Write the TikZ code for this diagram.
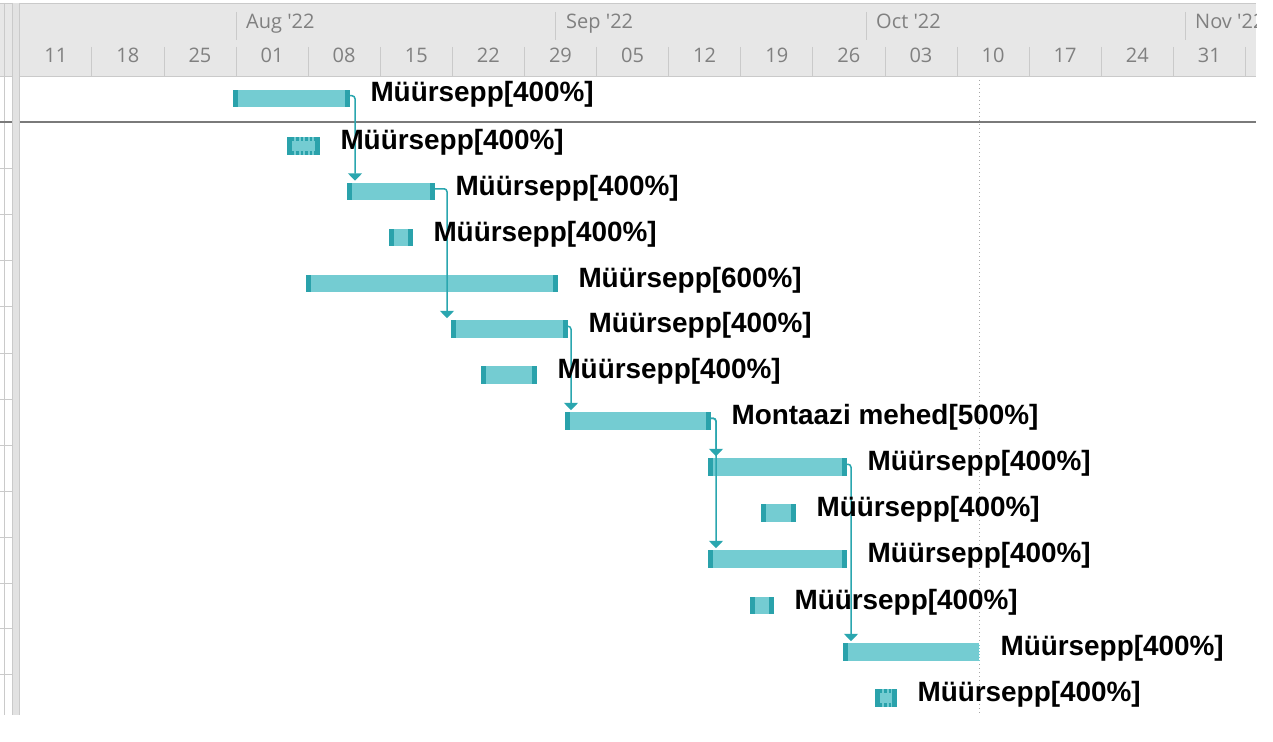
\documentclass[tikz,border=0pt]{standalone}
\usepackage{fontspec}
\setmainfont{Liberation Sans}
\newfontfamily\hdrfont{Open Sans}
\usetikzlibrary{arrows.meta}
\definecolor{barfill}{HTML}{74CCD2}
\definecolor{capc}{HTML}{2AA2AB}
\definecolor{connc}{HTML}{2AA6AF}
\definecolor{hdrbg}{HTML}{E7E7E7}
\definecolor{hdrline}{HTML}{CACACA}
\definecolor{hdrtext}{HTML}{808080}
\definecolor{sepline}{HTML}{7A7A7A}
\definecolor{stripc}{HTML}{E2E2E2}
\begin{document}
\begin{tikzpicture}[x=1pt,y=-1pt,
  bar/.style={rectangle, fill=barfill, draw=none, inner sep=0pt, outer sep=0pt, minimum height=17.5pt},
  caps/.style={path picture={
    \fill[capc] (path picture bounding box.south west) rectangle ([xshift=5pt]path picture bounding box.north west);
    \fill[capc] (path picture bounding box.south east) rectangle ([xshift=-5pt]path picture bounding box.north east);}},
  lcap/.style={path picture={
    \fill[capc] (path picture bounding box.south west) rectangle ([xshift=5pt]path picture bounding box.north west);
    \draw[white, line width=0.8pt, dash pattern=on 1.5pt off 1.5pt] ([xshift=-1pt]path picture bounding box.north east) -- ([xshift=-1pt]path picture bounding box.south east);}},
  dotbar/.style={path picture={
    \fill[capc] (path picture bounding box.south west) rectangle ([xshift=5pt]path picture bounding box.north west);
    \fill[capc] (path picture bounding box.south east) rectangle ([xshift=-5pt]path picture bounding box.north east);
    \draw[capc, line width=3.5pt, dash pattern=on 2.5pt off 2pt] ([yshift=-1.75pt]path picture bounding box.north west) -- ([yshift=-1.75pt]path picture bounding box.north east);
    \draw[capc, line width=3.5pt, dash pattern=on 2.5pt off 2pt] ([yshift=1.75pt]path picture bounding box.south west) -- ([yshift=1.75pt]path picture bounding box.south east);}},
  lab/.style={anchor=base west, inner sep=0pt, outer sep=0pt, font=\fontsize{27.9}{30}\selectfont\bfseries, text=black},
  conn/.style={draw=connc, line width=1.5pt, rounded corners=3pt, -{Triangle[width=14pt,length=7.5pt]}},
  daylab/.style={anchor=base, inner sep=0pt, font=\hdrfont\fontsize{20}{22}\selectfont, text=hdrtext},
  monlab/.style={anchor=base west, inner sep=0pt, font=\hdrfont\fontsize{20}{22}\selectfont, text=hdrtext},
  tick/.style={draw=hdrline, line width=0.8pt},
  rowline/.style={draw=hdrline, line width=0.6pt}
]
\useasboundingbox[fill=white] (0,0) rectangle (1273,741);

% ---------- left strip ----------
\fill[hdrbg] (0,3) rectangle (12,76);
\foreach \yy in {76,122,168,214,260,306,353,399,445,491,537,583,628,674}
  \draw[rowline] (0,\yy) -- (12,\yy);
\draw[rowline] (4,3) -- (4,715);

% ---------- header ----------
\fill[hdrbg] (19.5,3) rectangle (1256,76);
\draw[hdrline, line width=0.8pt] (0,3) -- (1256,3);
\draw[hdrline, line width=0.8pt] (0,76) -- (1256,76);
\foreach \k in {1,...,17}
  \draw[tick] ({19.7+72.1*\k},47) -- ({19.7+72.1*\k},76);
\foreach \mx in {236,555.5,866,1185}
  \draw[tick] (\mx,12) -- (\mx,40);
\foreach \d [count=\k from 0] in {11,18,25,01,08,15,22,29,05,12,19,26,03,10,17,24,31}
  \node[daylab] (d\k) at ({55.75+72.1*\k},63) {\d};
\begin{scope}
  \clip (19.5,3) rectangle (1256,76);
  \node[monlab] (mAug) at (246,29) {Aug '22};
  \node[monlab] (mSep) at (566,29) {Sep '22};
  \node[monlab] (mOct) at (876,29) {Oct '22};
  \node[monlab] (mNov) at (1195,29) {Nov '22};
\end{scope}

% separator under the summary row
\draw[sepline, line width=1.5pt] (0,122) -- (1256,122);

% grey band
\fill[stripc] (12,3) rectangle (19.5,715);
\draw[hdrline, line width=0.6pt] (12,3) -- (12,715);
\draw[hdrline, line width=0.6pt] (19.5,3) -- (19.5,715);

% status date line
\draw[gray!70, line width=1pt, dash pattern=on 1pt off 3pt] (979,80) -- (979,715);

% ---------- bars ----------
\node[bar, caps, minimum width=117pt] (b1) at (291.5,98.5) {};
\node[bar, dotbar, minimum width=33pt] (b2) at (303.5,146) {};
\node[bar, caps, minimum width=88pt] (b3) at (391,191.5) {};
\node[bar, caps, minimum width=24pt] (b4) at (401,237.5) {};
\node[bar, caps, minimum width=252pt] (b5) at (432,283.5) {};
\node[bar, caps, minimum width=117pt] (b6) at (509.5,329) {};
\node[bar, caps, minimum width=56pt] (b7) at (509,375) {};
\node[bar, caps, minimum width=146pt] (b8) at (638,421) {};
\node[bar, caps, minimum width=139pt] (b9) at (777.5,467) {};
\node[bar, caps, minimum width=35pt] (b10) at (778.5,513) {};
\node[bar, caps, minimum width=139pt] (b11) at (777.5,559) {};
\node[bar, caps, minimum width=24pt] (b12) at (762,605.5) {};
\node[bar, lcap, minimum width=137pt] (b13) at (911.5,652) {};
\node[bar, dotbar, minimum width=22pt] (b14) at (886,698) {};

% ---------- connectors ----------
\draw[conn] ([yshift=-6pt]b1.north east) -| ([xshift=8pt,yshift=2pt]b3.north west);
\draw[conn] ([yshift=-6pt]b3.north east) -| ([xshift=-4pt,yshift=2pt]b6.north west);
\draw[conn] ([yshift=-6pt]b6.north east) -| ([xshift=6pt,yshift=2pt]b8.north west);
\draw[conn] ([yshift=-6pt]b8.north east) -| ([xshift=8pt,yshift=2pt]b9.north west);
\draw[conn] ([yshift=-6pt]b8.north east) -| ([xshift=8pt,yshift=2pt]b11.north west);
\draw[conn] ([yshift=-6pt]b9.north east) -| ([xshift=8pt,yshift=2pt]b13.north west);

% ---------- labels ----------
\foreach \i/\t in {1/Müürsepp[400\%],2/Müürsepp[400\%],3/Müürsepp[400\%],4/Müürsepp[400\%],5/Müürsepp[600\%],6/Müürsepp[400\%],7/Müürsepp[400\%],8/Montaazi mehed[500\%],9/Müürsepp[400\%],10/Müürsepp[400\%],11/Müürsepp[400\%],12/Müürsepp[400\%],13/Müürsepp[400\%],14/Müürsepp[400\%]}
  \node[lab] (l\i) at ([xshift=20.5pt,yshift=-3.5pt]b\i.east) {\t};
\end{tikzpicture}
\end{document}
